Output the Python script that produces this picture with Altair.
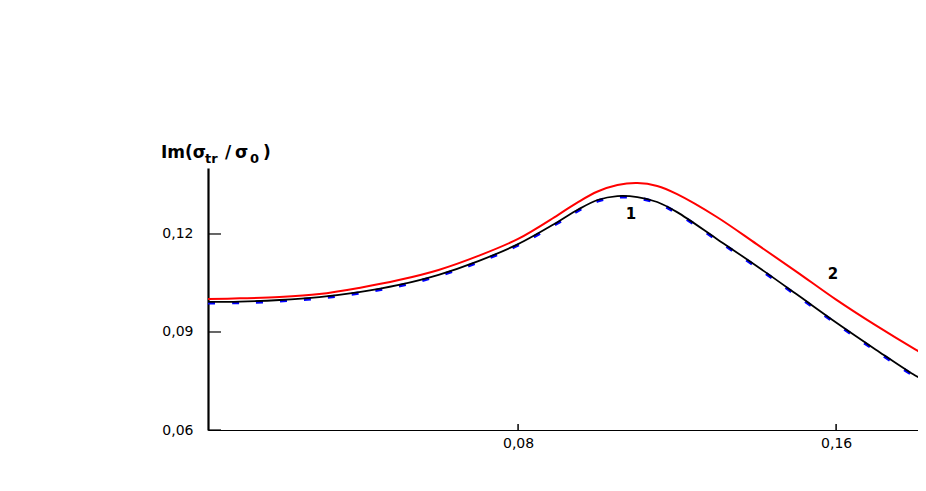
import altair as alt
import pandas as pd

# ---- data ----
x_vals = [0.002, 0.01, 0.02, 0.03, 0.04, 0.05, 0.06, 0.07, 0.08, 0.09, 0.095, 0.1,
          0.105, 0.11, 0.115, 0.12, 0.13, 0.14, 0.15, 0.16, 0.17, 0.18, 0.1826]
black_vals = [0.0992, 0.0993, 0.0998, 0.1007, 0.1022, 0.1044, 0.1075, 0.1117, 0.1169,
              0.1237, 0.1274, 0.1304, 0.1316, 0.1313, 0.1298, 0.1267, 0.1185, 0.1102,
              0.1016, 0.0929, 0.0846, 0.0766, 0.0750]
blue_vals = [0.0989, 0.0990, 0.0995, 0.1004, 0.1019, 0.1041, 0.1072, 0.1114, 0.1166,
             0.1234, 0.1271, 0.1301, 0.1313, 0.1310, 0.1295, 0.1264, 0.1182, 0.1099,
             0.1013, 0.0926, 0.0843, 0.0763, 0.0747]
red_vals = [0.1001, 0.1003, 0.1007, 0.1016, 0.1035, 0.1059, 0.1090, 0.1133, 0.1185,
            0.1258, 0.1297, 0.1330, 0.1350, 0.1356, 0.1347, 0.1322, 0.1252, 0.1169,
            0.1085, 0.0999, 0.0920, 0.0846, 0.0828]

y_ticks = [0.06, 0.09, 0.12]
x_ticks = [0.08, 0.16]
curve_labels = ["1", "2"]
curve_label_x = [0.1084, 0.1592]
curve_label_y = [0.1262, 0.1077]
title_parts = ["Im(σ", "tr", "/", "σ", "0", ")"]

# ---- styling / layout ----
X_DOMAIN = [0.002, 0.1806]
Y_DOMAIN = [0.06, 0.1402]
W, H = 710, 262
title_x = [-47, -3, 17, 27, 42, 55]
title_y = [-10, -5, -10, -10, -5, -10]
title_size = [17, 13, 17, 17, 13, 17]

rows = []
for name, vals in (("black", black_vals), ("blue", blue_vals), ("red", red_vals)):
    for xv, yv in zip(x_vals, vals):
        rows.append({"x": xv, "y": yv, "series": name})
curves = pd.DataFrame(rows)

xs = alt.Scale(domain=X_DOMAIN, nice=False, zero=False)
ys = alt.Scale(domain=Y_DOMAIN, nice=False, zero=False)
label_expr = "replace(format(datum.value, '.2f'), '.', ',')"

x_axis = alt.Axis(values=x_ticks, ticks=False, grid=False, domainColor="black",
                  domainWidth=1.2, labelExpr=label_expr, labelPadding=6,
                  labelFont="DejaVu Sans", labelFontSize=14, labelColor="black",
                  title=None)
y_axis = alt.Axis(values=y_ticks, ticks=False, grid=False, domainColor="black",
                  domainWidth=2.2, labelExpr=label_expr, labelPadding=15,
                  labelFont="DejaVu Sans", labelFontSize=14, labelColor="black",
                  title=None)

X = alt.X("x:Q", scale=xs, axis=x_axis)
Y = alt.Y("y:Q", scale=ys, axis=y_axis)

base = alt.Chart(curves)
red_line = base.transform_filter("datum.series == 'red'").mark_line(
    color="#ff0000", strokeWidth=2, interpolate="catmull-rom", clip=True).encode(x=X, y=Y)
blue_line = base.transform_filter("datum.series == 'blue'").mark_line(
    color="#0000ff", strokeWidth=3.2, strokeDash=[7, 17], interpolate="catmull-rom",
    clip=True).encode(x=X, y=Y)
black_line = base.transform_filter("datum.series == 'black'").mark_line(
    color="black", strokeWidth=1.8, interpolate="catmull-rom", clip=True).encode(x=X, y=Y)

ytick = alt.Chart(pd.DataFrame({"v": y_ticks})).mark_rule(
    color="black", strokeWidth=1.2).encode(
    y=alt.Y("v:Q", scale=ys, axis=y_axis), x=alt.value(0), x2=alt.value(13))
xtick = alt.Chart(pd.DataFrame({"v": x_ticks})).mark_rule(
    color="black", strokeWidth=1.5).encode(
    x=alt.X("v:Q", scale=xs, axis=x_axis), y=alt.value(H), y2=alt.value(H - 6))

lbl = alt.Chart(pd.DataFrame({"x": curve_label_x, "y": curve_label_y, "t": curve_labels})).mark_text(
    font="DejaVu Sans", fontWeight="bold", fontSize=15, color="black").encode(
    x=alt.X("x:Q", scale=xs, axis=x_axis), y=alt.Y("y:Q", scale=ys, axis=y_axis), text="t:N")

title_layers = []
for part, px, py, fs in zip(title_parts, title_x, title_y, title_size):
    title_layers.append(
        alt.Chart(pd.DataFrame({"t": [part]})).mark_text(
            font="DejaVu Sans", fontWeight="bold", fontSize=fs, color="black",
            align="left", baseline="alphabetic").encode(
            text="t:N", x=alt.value(px), y=alt.value(py))
    )

chart = alt.layer(red_line, blue_line, black_line, ytick, xtick, lbl, *title_layers).properties(
    width=W, height=H,
    autosize=alt.AutoSizeParams(type="none"),
    padding={"left": 200, "top": 160, "right": 0, "bottom": 40},
).configure_view(stroke=None)

chart.save("out.html", embed_options={"renderer": "svg", "actions": False})
